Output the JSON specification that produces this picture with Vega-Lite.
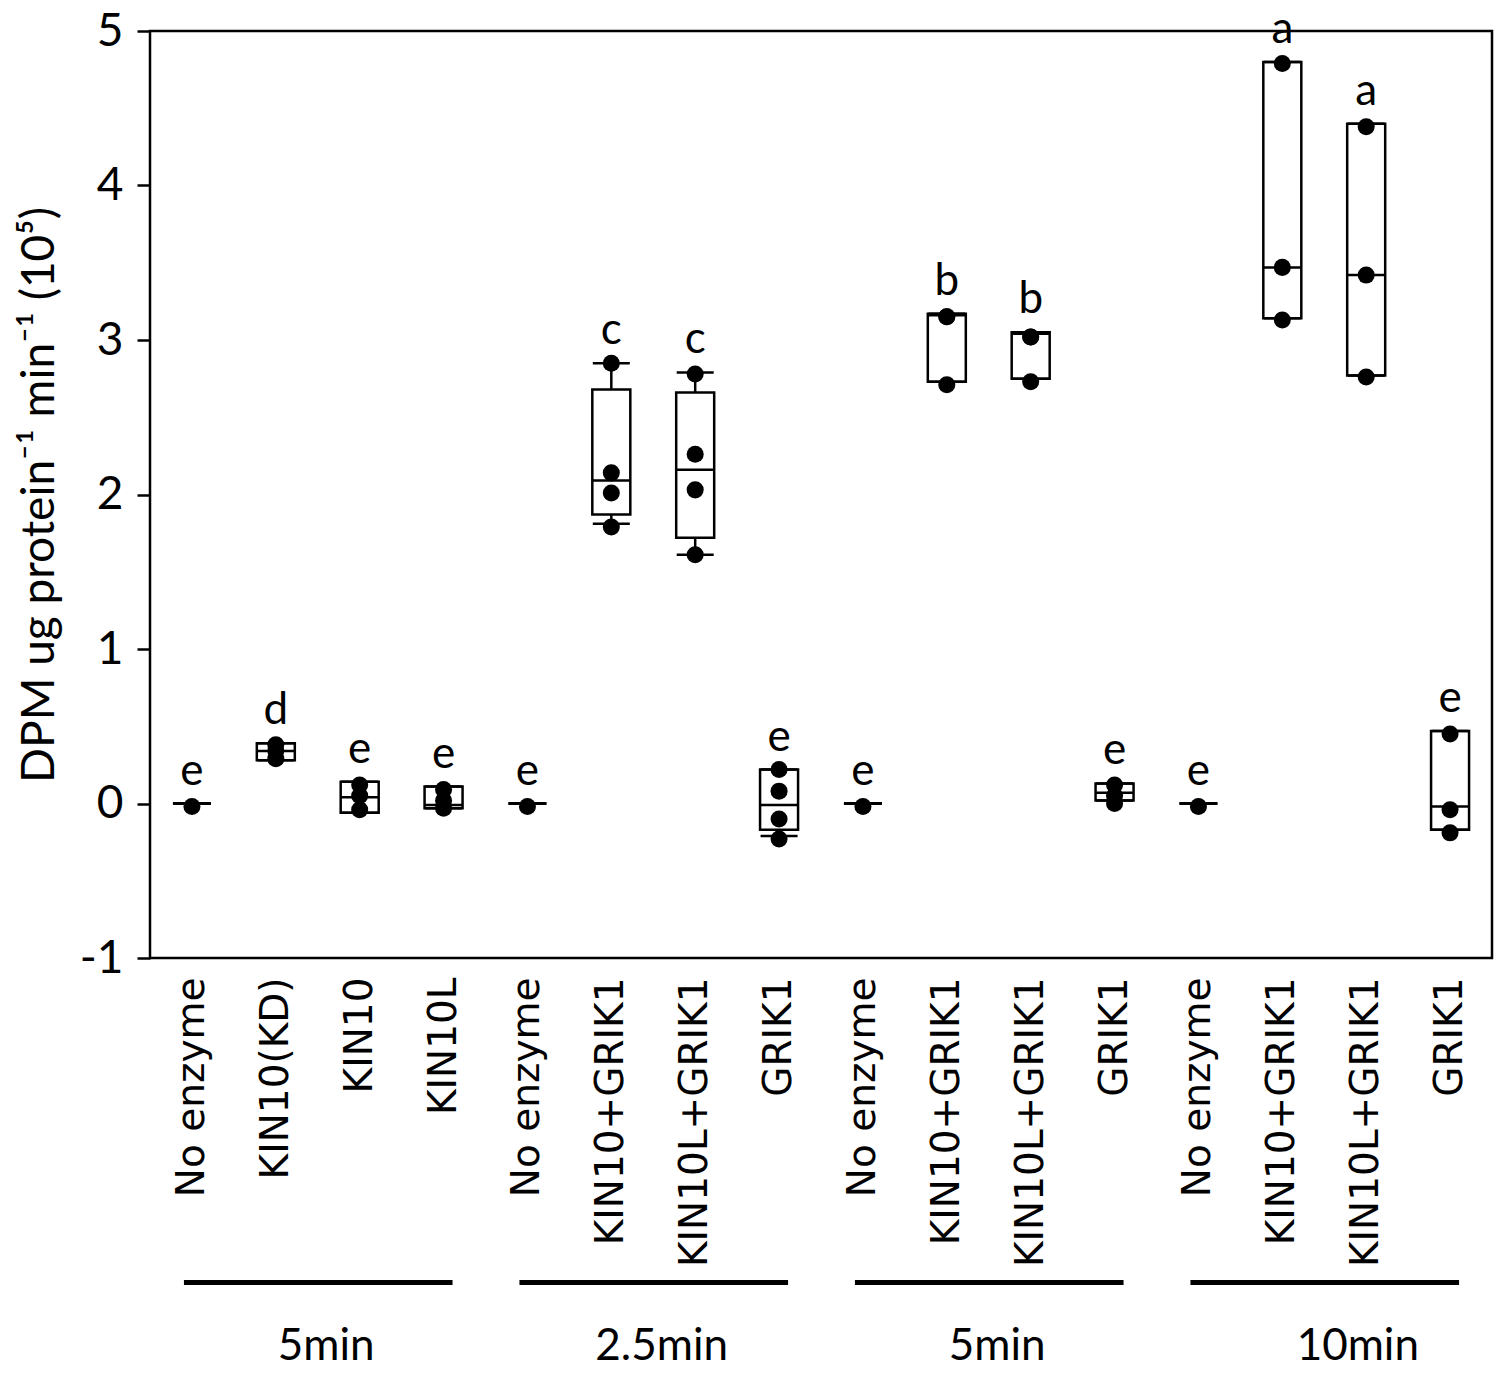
{
  "$schema": "https://vega.github.io/schema/vega-lite/v6.json",
  "width": 1342,
  "height": 927,
  "autosize": {"type": "none"},
  "padding": {"left": 150, "top": 31, "right": 11, "bottom": 416},
  "background": "white",
  "config": {
    "view": {"stroke": "black", "strokeWidth": 2.5},
    "axis": {"grid": false},
    "font": "Lato"
  },
  "datasets": {
    "boxes": [
      {"id": "A|No enzyme", "lo": 0, "q1": 0, "med": 0, "q3": 0, "hi": 0, "letter": "e"},
      {"id": "A|KIN10(KD)", "lo": 0.28, "q1": 0.28, "med": 0.34, "q3": 0.39, "hi": 0.39, "letter": "d"},
      {"id": "A|KIN10", "lo": -0.06, "q1": -0.06, "med": 0.04, "q3": 0.14, "hi": 0.14, "letter": "e"},
      {"id": "A|KIN10L", "lo": -0.03, "q1": -0.03, "med": -0.01, "q3": 0.11, "hi": 0.11, "letter": "e"},
      {"id": "B|No enzyme", "lo": 0, "q1": 0, "med": 0, "q3": 0, "hi": 0, "letter": "e"},
      {"id": "B|KIN10+GRIK1", "lo": 1.81, "q1": 1.87, "med": 2.09, "q3": 2.68, "hi": 2.85, "letter": "c"},
      {"id": "B|KIN10L+GRIK1", "lo": 1.61, "q1": 1.72, "med": 2.16, "q3": 2.66, "hi": 2.79, "letter": "c"},
      {"id": "B|GRIK1", "lo": -0.21, "q1": -0.17, "med": -0.01, "q3": 0.22, "hi": 0.22, "letter": "e"},
      {"id": "C|No enzyme", "lo": 0, "q1": 0, "med": 0, "q3": 0, "hi": 0, "letter": "e"},
      {"id": "C|KIN10+GRIK1", "lo": 2.73, "q1": 2.73, "med": 3.16, "q3": 3.17, "hi": 3.17, "letter": "b"},
      {"id": "C|KIN10L+GRIK1", "lo": 2.75, "q1": 2.75, "med": 3.04, "q3": 3.05, "hi": 3.05, "letter": "b"},
      {"id": "C|GRIK1", "lo": 0.02, "q1": 0.02, "med": 0.07, "q3": 0.13, "hi": 0.13, "letter": "e"},
      {"id": "D|No enzyme", "lo": 0, "q1": 0, "med": 0, "q3": 0, "hi": 0, "letter": "e"},
      {"id": "D|KIN10+GRIK1", "lo": 3.14, "q1": 3.14, "med": 3.47, "q3": 4.8, "hi": 4.8, "letter": "a"},
      {"id": "D|KIN10L+GRIK1", "lo": 2.77, "q1": 2.77, "med": 3.42, "q3": 4.4, "hi": 4.4, "letter": "a"},
      {"id": "D|GRIK1", "lo": -0.17, "q1": -0.17, "med": -0.02, "q3": 0.47, "hi": 0.47, "letter": "e"}
    ],
    "points": [
      {"id": "A|No enzyme", "v": -0.02},
      {"id": "A|KIN10(KD)", "v": 0.38}, {"id": "A|KIN10(KD)", "v": 0.34}, {"id": "A|KIN10(KD)", "v": 0.29},
      {"id": "A|KIN10", "v": 0.12}, {"id": "A|KIN10", "v": 0.05}, {"id": "A|KIN10", "v": -0.04},
      {"id": "A|KIN10L", "v": 0.09}, {"id": "A|KIN10L", "v": 0.02}, {"id": "A|KIN10L", "v": -0.03},
      {"id": "B|No enzyme", "v": -0.02},
      {"id": "B|KIN10+GRIK1", "v": 2.85}, {"id": "B|KIN10+GRIK1", "v": 2.14}, {"id": "B|KIN10+GRIK1", "v": 2.01}, {"id": "B|KIN10+GRIK1", "v": 1.79},
      {"id": "B|KIN10L+GRIK1", "v": 2.78}, {"id": "B|KIN10L+GRIK1", "v": 2.26}, {"id": "B|KIN10L+GRIK1", "v": 2.03}, {"id": "B|KIN10L+GRIK1", "v": 1.61},
      {"id": "B|GRIK1", "v": 0.22}, {"id": "B|GRIK1", "v": 0.08}, {"id": "B|GRIK1", "v": -0.1}, {"id": "B|GRIK1", "v": -0.23},
      {"id": "C|No enzyme", "v": -0.02},
      {"id": "C|KIN10+GRIK1", "v": 3.15}, {"id": "C|KIN10+GRIK1", "v": 3.15}, {"id": "C|KIN10+GRIK1", "v": 2.71},
      {"id": "C|KIN10L+GRIK1", "v": 3.02}, {"id": "C|KIN10L+GRIK1", "v": 3.02}, {"id": "C|KIN10L+GRIK1", "v": 2.73},
      {"id": "C|GRIK1", "v": 0.12}, {"id": "C|GRIK1", "v": 0.05}, {"id": "C|GRIK1", "v": 0.0},
      {"id": "D|No enzyme", "v": -0.02},
      {"id": "D|KIN10+GRIK1", "v": 4.79}, {"id": "D|KIN10+GRIK1", "v": 3.47}, {"id": "D|KIN10+GRIK1", "v": 3.13},
      {"id": "D|KIN10L+GRIK1", "v": 4.38}, {"id": "D|KIN10L+GRIK1", "v": 3.42}, {"id": "D|KIN10L+GRIK1", "v": 2.76},
      {"id": "D|GRIK1", "v": 0.45}, {"id": "D|GRIK1", "v": -0.04}, {"id": "D|GRIK1", "v": -0.19}
    ],
    "groups": [
      {"label": "5min", "first": "A|No enzyme", "last": "A|KIN10L", "mid": "A|KIN10"},
      {"label": "2.5min", "first": "B|No enzyme", "last": "B|GRIK1", "mid": "B|KIN10L+GRIK1"},
      {"label": "5min", "first": "C|No enzyme", "last": "C|GRIK1", "mid": "C|KIN10L+GRIK1"},
      {"label": "10min", "first": "D|No enzyme", "last": "D|GRIK1", "mid": "D|KIN10L+GRIK1"}
    ]
  },
  "layer": [
    {
      "data": {"name": "boxes"},
      "mark": {"type": "rule", "color": "black", "strokeWidth": 2.5},
      "encoding": {
        "x": {
          "field": "id", "type": "nominal",
          "scale": {"type": "band", "paddingInner": 0, "paddingOuter": 0, "domain": ["A|No enzyme","A|KIN10(KD)","A|KIN10","A|KIN10L","B|No enzyme","B|KIN10+GRIK1","B|KIN10L+GRIK1","B|GRIK1","C|No enzyme","C|KIN10+GRIK1","C|KIN10L+GRIK1","C|GRIK1","D|No enzyme","D|KIN10+GRIK1","D|KIN10L+GRIK1","D|GRIK1"]},
          "axis": {
            "title": null, "labelAngle": -90, "labelExpr": "split(datum.label, '|')[1]",
            "labelFont": "DejaVu Sans", "labelFontSize": 39, "labelColor": "black",
            "labelPadding": 19, "ticks": false, "tickSize": 0, "domain": false,
            "labelLimit": 600, "labelOverlap": false, "labelBound": false, "grid": false
          }
        },
        "y": {
          "field": "lo", "type": "quantitative",
          "scale": {"domain": [-1, 5], "nice": false, "zero": false},
          "axis": {
            "values": [-1, 0, 1, 2, 3, 4, 5], "labelExpr": "datum.value + ''",
            "labelFont": "Lato", "labelFontSize": 46, "labelColor": "black", "labelPadding": 14,
            "tickSize": 13, "tickWidth": 2.5, "tickColor": "black", "domain": false, "grid": false,
            "title": "DPM ug protein⁻¹ min⁻¹ (10⁵)", "titleFont": "Lato", "titleFontSize": 46,
            "titleFontWeight": "normal", "titleColor": "black", "titlePadding": 16
          }
        },
        "y2": {"field": "q1"}
      }
    },
    {
      "data": {"name": "boxes"},
      "mark": {"type": "rule", "color": "black", "strokeWidth": 2.5},
      "encoding": {
        "x": {"field": "id", "type": "nominal"},
        "y": {"field": "q3", "type": "quantitative"},
        "y2": {"field": "hi"}
      }
    },
    {
      "data": {"name": "boxes"},
      "mark": {"type": "bar", "width": 38, "fill": "white", "stroke": "black", "strokeWidth": 2.5},
      "encoding": {
        "x": {"field": "id", "type": "nominal"},
        "y": {"field": "q1", "type": "quantitative"},
        "y2": {"field": "q3"}
      }
    },
    {
      "data": {"name": "boxes"},
      "mark": {"type": "tick", "color": "black", "size": 37, "thickness": 2.5, "opacity": 1},
      "encoding": {
        "x": {"field": "id", "type": "nominal"},
        "y": {"field": "lo", "type": "quantitative"}
      }
    },
    {
      "data": {"name": "boxes"},
      "mark": {"type": "tick", "color": "black", "size": 37, "thickness": 2.5, "opacity": 1},
      "encoding": {
        "x": {"field": "id", "type": "nominal"},
        "y": {"field": "hi", "type": "quantitative"}
      }
    },
    {
      "data": {"name": "boxes"},
      "mark": {"type": "tick", "color": "black", "size": 38, "thickness": 2.5, "opacity": 1},
      "encoding": {
        "x": {"field": "id", "type": "nominal"},
        "y": {"field": "med", "type": "quantitative"}
      }
    },
    {
      "data": {"name": "points"},
      "mark": {"type": "point", "filled": true, "color": "black", "size": 290, "opacity": 1},
      "encoding": {
        "x": {"field": "id", "type": "nominal"},
        "y": {"field": "v", "type": "quantitative"}
      }
    },
    {
      "data": {"name": "boxes"},
      "mark": {"type": "text", "font": "Lato", "fontSize": 44, "color": "black", "baseline": "alphabetic", "align": "center", "dy": -19},
      "encoding": {
        "x": {"field": "id", "type": "nominal"},
        "y": {"field": "hi", "type": "quantitative"},
        "text": {"field": "letter"}
      }
    },
    {
      "data": {"name": "groups"},
      "mark": {"type": "rule", "color": "black", "strokeWidth": 5, "xOffset": -8, "x2Offset": 9},
      "encoding": {
        "x": {"field": "first", "type": "nominal"},
        "x2": {"field": "last"},
        "y": {"datum": -3.1}
      }
    },
    {
      "data": {"name": "groups"},
      "transform": [{"filter": "datum.label != '10min'"}],
      "mark": {"type": "text", "font": "Lato", "fontSize": 44, "color": "black", "baseline": "middle", "align": "center"},
      "encoding": {
        "x": {"field": "mid", "type": "nominal", "bandPosition": 0.1},
        "y": {"datum": -3.52},
        "text": {"field": "label"}
      }
    },
    {
      "data": {"name": "groups"},
      "transform": [{"filter": "datum.label == '10min'"}],
      "mark": {"type": "text", "font": "Lato", "fontSize": 44, "color": "black", "baseline": "middle", "align": "center"},
      "encoding": {
        "x": {"field": "mid", "type": "nominal", "bandPosition": 0.4},
        "y": {"datum": -3.52},
        "text": {"field": "label"}
      }
    }
  ]
}
